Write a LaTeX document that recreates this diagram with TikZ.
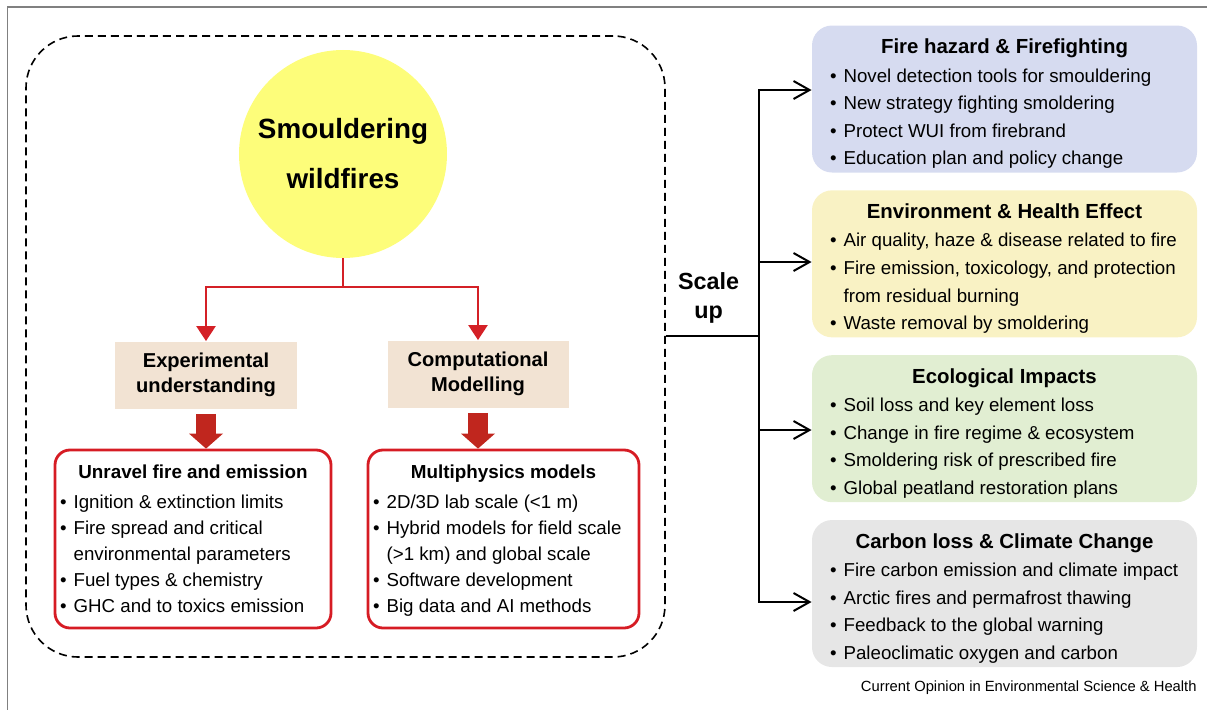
\documentclass[tikz,border=0pt]{standalone}
\usepackage{fontspec}
\setmainfont{Liberation Sans}
\usepackage{tikz}
\usetikzlibrary{backgrounds, fit}
\usetikzlibrary{positioning}
\usetikzlibrary{arrows.meta}
\definecolor{framegray}{RGB}{128,128,128}
\definecolor{sunyellow}{RGB}{253,253,122}
\definecolor{linered}{RGB}{212,32,38}
\definecolor{arrowred}{RGB}{192,38,30}
\definecolor{boxred}{RGB}{214,28,36}
\definecolor{beige}{RGB}{242,227,211}
\definecolor{lavender}{RGB}{214,219,240}
\definecolor{cream}{RGB}{249,242,196}
\definecolor{sage}{RGB}{225,238,210}
\definecolor{lightgrey}{RGB}{230,230,230}
\newcommand{\itm}{\makebox[3.4mm][l]{\textbullet}}
\newcommand{\itmgap}{\hspace*{3.4mm}}

\begin{document}
\begin{tikzpicture}[
            x = 0.25mm, y = -0.25mm, % one unit per pixel, going down
            > = {Straight Barb[length=4mm, width=4.5mm]}, % arrow head style
            semithick % line style
        ]

        \tikzstyle{every node}=[inner sep=0pt]
        \tikzstyle{topic}=[circle, fill=sunyellow, minimum size=52mm, align=center,
            font=\fontsize{19.8}{35.5}\selectfont\bfseries]
        \tikzstyle{method}=[rectangle, fill=beige, minimum width=45.25mm, minimum height=16.75mm,
            align=center, font=\fontsize{14.3}{17.8}\selectfont\bfseries]
        \tikzstyle{task}=[rectangle, draw=boxred, line width=0.7mm, rounded corners=3.75mm,
            minimum height=44.5mm]
        \tikzstyle{impact}=[rectangle, rounded corners=5mm, minimum width=96.25mm, minimum height=36.75mm]
        \tikzstyle{tasktitle}=[font=\fontsize{13.4}{16}\selectfont\bfseries]
        \tikzstyle{impacttitle}=[font=\fontsize{14.5}{17}\selectfont\bfseries]
        \tikzstyle{tasklist}=[align=left, font=\fontsize{13.3}{18.5}\selectfont]
        \tikzstyle{impactlist}=[align=left, font=\fontsize{13.3}{19.6}\selectfont]
        \tikzstyle{redline}=[draw=linered, line width=0.625mm]
        \tikzstyle{bigarrow}=[draw=arrowred, line width=5mm,
            -{Triangle[length=3.75mm, width=8.5mm, line width=0pt]}]
        \tikzstyle{trunk}=[draw=black, line width=0.5mm]

        \useasboundingbox (0,0) rectangle (1207,710);
        \draw[framegray, line width=0.3mm] (7.5,710) -- (7.5,7) -- (1207,7);

        % study panel
        \node[draw, dash pattern=on 2mm off 1.25mm, line width=0.4mm, rounded corners=13mm,
            minimum width=159.75mm, minimum height=155.25mm] (panel) at (345.5,346.5) {};

        \node[topic] (fire) at (343,154) {Smouldering\\wildfires};
        \coordinate (split) at (343,287);

        \node[method] (exp) at (206,375) {Experimental\\understanding};
        \node[method] (comp) at (478,374) {Computational\\Modelling};

        \draw[redline] (fire.south) -- (split);
        \draw[redline, -{Triangle[length=3.75mm, width=4.75mm]}] (split) -| (exp.north);
        \draw[redline, -{Triangle[length=3.75mm, width=4.75mm]}] (split) -| (comp.north);

        % research tasks
        \node[task, minimum width=69mm] (unravel) at (193,539) {};
        \node[task, minimum width=67.75mm] (models) at (503.5,539) {};

        \draw[bigarrow, shorten <=1.25mm] (exp.south) -- (exp.south |- unravel.north);
        \draw[bigarrow, shorten <=1.25mm] (comp.south) -- (comp.south |- models.north);

        \node[tasktitle] (unravelt) [below=4mm of unravel.north] {Unravel fire and emission};
        \node[tasklist] (unraveli) [below right=11.5mm and 1.5mm of unravel.north west]
            {\itm Ignition \& extinction limits\\
             \itm Fire spread and critical\\
             \itmgap environmental parameters\\
             \itm Fuel types \& chemistry\\
             \itm GHC and to toxics emission};

        \node[tasktitle] (modelst) [below=4mm of models.north] {Multiphysics models};
        \node[tasklist] (modelsi) [below right=11.5mm and 1.5mm of models.north west]
            {\itm 2D/3D lab scale (<1 m)\\
             \itm Hybrid models for field scale\\
             \itmgap (>1 km) and global scale\\
             \itm Software development\\
             \itm Big data and AI methods};

        % impacts
        \node[impact, fill=lavender] (hazard) at (1004.5,99) {};
        \node[impact, fill=cream] (health) [below=4.25mm of hazard] {};
        \node[impact, fill=sage] (eco) [below=4.25mm of health] {};
        \node[impact, fill=lightgrey] (carbon) [below=4.25mm of eco] {};

        \node[impacttitle] (hazardt) [below=3.4mm of hazard.north] {Fire hazard \& Firefighting};
        \node[impactlist] (hazardi) [below right=10.75mm and 4.5mm of hazard.north west]
            {\itm Novel detection tools for smouldering\\
             \itm New strategy fighting smoldering\\
             \itm Protect WUI from firebrand\\
             \itm Education plan and policy change};

        \node[impacttitle] (healtht) [below=3.4mm of health.north] {Environment \& Health Effect};
        \node[impactlist] (healthi) [below right=10.75mm and 4.5mm of health.north west]
            {\itm Air quality, haze \& disease related to fire\\
             \itm Fire emission, toxicology, and protection\\
             \itmgap from residual burning\\
             \itm Waste removal by smoldering};

        \node[impacttitle] (ecot) [below=3.4mm of eco.north] {Ecological Impacts};
        \node[impactlist] (ecoi) [below right=10.75mm and 4.5mm of eco.north west]
            {\itm Soil loss and key element loss\\
             \itm Change in fire regime \& ecosystem\\
             \itm Smoldering risk of prescribed fire\\
             \itm Global peatland restoration plans};

        \node[impacttitle] (carbont) [below=3.4mm of carbon.north] {Carbon loss \& Climate Change};
        \node[impactlist] (carboni) [below right=10.75mm and 4.5mm of carbon.north west]
            {\itm Fire carbon emission and climate impact\\
             \itm Arctic fires and permafrost thawing\\
             \itm Feedback to the global warning\\
             \itm Paleoclimatic oxygen and carbon};

        % scale up
        \node[align=center, font=\fontsize{16.6}{20.6}\selectfont\bfseries] (scale) at (708.5,298) {Scale\\up};
        \coordinate (t1) at (759,90);
        \coordinate (t2) at (759,262);
        \coordinate (t3) at (759,430);
        \coordinate (t4) at (759,602);
        \coordinate (tj) at (759,336);

        \draw[trunk, <->] (t1 -| hazard.west) -- (t1) -- (t4) -- (t4 -| carbon.west);
        \draw[trunk] (panel.east |- tj) -- (tj);
        \draw[trunk, ->] (t2) -- (t2 -| health.west);
        \draw[trunk, ->] (t3) -- (t3 -| eco.west);

        \node[anchor=east, font=\fontsize{10.5}{12}\selectfont] (credit) at (1197,688)
            {Current Opinion in Environmental Science \& Health};

  \end{tikzpicture}
\end{document}
